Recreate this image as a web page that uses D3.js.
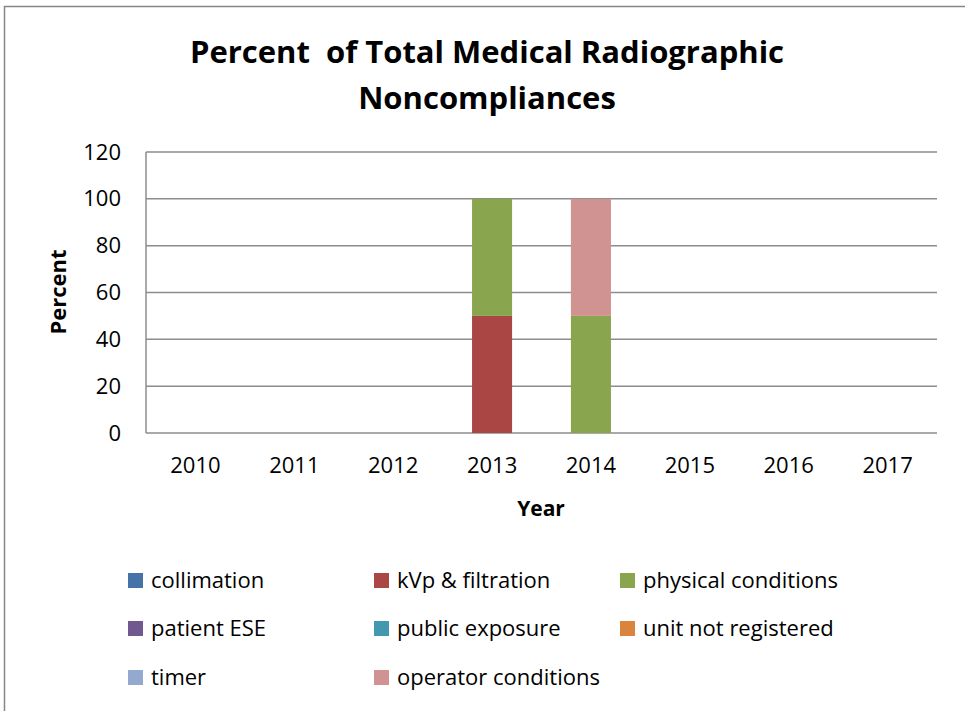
<!DOCTYPE html>
<html>
<head>
<meta charset="utf-8">
<script src="https://cdn.jsdelivr.net/npm/d3@7"></script>
<style>
  body { margin: 0; background: #fff; }
  svg text { font-family: "Open Sans", Lato, sans-serif; fill: #000; }
</style>
</head>
<body>
<div id="chart"></div>
<script>
var years = ["2010", "2011", "2012", "2013", "2014", "2015", "2016", "2017"];
var seriesNames = ["collimation", "kVp & filtration", "physical conditions", "patient ESE",
  "public exposure", "unit not registered", "timer", "operator conditions"];
var seriesColors = ["#4572A7", "#AA4643", "#89A54E", "#71588F", "#4198AF", "#DB843D", "#93A9CF", "#D19392"];
// one array per series, values by year
var collimation = [0, 0, 0, 0, 0, 0, 0, 0];
var kvp = [0, 0, 0, 50, 0, 0, 0, 0];
var physical = [0, 0, 0, 50, 50, 0, 0, 0];
var patientESE = [0, 0, 0, 0, 0, 0, 0, 0];
var publicExposure = [0, 0, 0, 0, 0, 0, 0, 0];
var unitNotRegistered = [0, 0, 0, 0, 0, 0, 0, 0];
var timer = [0, 0, 0, 0, 0, 0, 0, 0];
var operator = [0, 0, 0, 0, 50, 0, 0, 0];
var yTicks = [0, 20, 40, 60, 80, 100, 120];

var allSeries = [collimation, kvp, physical, patientESE, publicExposure, unitNotRegistered, timer, operator];

var width = 965, height = 711;
var plotLeft = 146, plotRight = 937, plotTop = 152, plotBottom = 433;

var table = years.map(function (y, i) {
  var row = { year: y };
  seriesNames.forEach(function (s, j) { row[s] = allSeries[j][i]; });
  return row;
});

var svg = d3.select("#chart").append("svg")
  .attr("width", width).attr("height", height);

// outer chart border
svg.append("rect")
  .attr("x", 4.5).attr("y", 6.5)
  .attr("width", 980).attr("height", 730)
  .attr("fill", "none").attr("stroke", "#868686").attr("stroke-width", 1.5);

var x = d3.scaleBand().domain(years).range([plotLeft, plotRight]).paddingInner(0.595).paddingOuter(0.2975);
var y = d3.scaleLinear().domain([0, 120]).range([plotBottom, plotTop]);

// gridlines
svg.append("g")
  .selectAll("line")
  .data(yTicks)
  .enter().append("line")
  .attr("x1", plotLeft).attr("x2", plotRight)
  .attr("y1", function (d) { return y(d); })
  .attr("y2", function (d) { return y(d); })
  .attr("stroke", "#8c8c8c").attr("stroke-width", 1.5);

// y axis line
svg.append("line")
  .attr("x1", plotLeft).attr("x2", plotLeft)
  .attr("y1", plotTop).attr("y2", plotBottom)
  .attr("stroke", "#8c8c8c").attr("stroke-width", 1.5);

var stack = d3.stack().keys(seriesNames);
var layers = stack(table);

svg.append("g")
  .selectAll("g")
  .data(layers)
  .enter().append("g")
  .attr("fill", function (d, i) { return seriesColors[i]; })
  .selectAll("rect")
  .data(function (d) { return d.filter(function (p) { return p[1] - p[0] > 0; }); })
  .enter().append("rect")
  .attr("x", function (d) { return x(d.data.year); })
  .attr("width", x.bandwidth())
  .attr("y", function (d) { return y(d[1]); })
  .attr("height", function (d) { return y(d[0]) - y(d[1]); });

// y tick labels
var yAxis = d3.axisLeft(y).tickValues(yTicks).tickSize(0).tickPadding(25);
var gy = svg.append("g").attr("transform", "translate(" + plotLeft + ",0)").call(yAxis);
gy.select(".domain").remove();
gy.selectAll("text").style("font-size", "22px").style("font-family", "'Open Sans', sans-serif");

// x tick labels
var xAxis = d3.axisBottom(x).tickSize(0).tickPadding(24);
var gx = svg.append("g").attr("transform", "translate(0," + plotBottom + ")").call(xAxis);
gx.select(".domain").remove();
gx.selectAll("text").style("font-size", "22px").style("font-family", "'Open Sans', sans-serif");

// title
var title = svg.append("text")
  .attr("text-anchor", "middle")
  .style("font-size", "31px").style("font-weight", "bold");
title.append("tspan").attr("x", 487).attr("y", 63).attr("xml:space", "preserve").text("Percent  of Total Medical Radiographic");
title.append("tspan").attr("x", 487).attr("y", 109).text("Noncompliances");

// axis titles
svg.append("text")
  .attr("x", 541).attr("y", 516)
  .attr("text-anchor", "middle")
  .style("font-size", "21px").style("font-weight", "bold")
  .text("Year");

svg.append("text")
  .attr("transform", "translate(66,292) rotate(-90)")
  .attr("text-anchor", "middle")
  .style("font-size", "22px").style("font-weight", "bold")
  .text("Percent");

// legend
var legendCols = [128, 374, 620];
var legendRows = [580, 628, 677];
var legend = svg.append("g")
  .selectAll("g")
  .data(seriesNames)
  .enter().append("g")
  .attr("transform", function (d, i) {
    return "translate(" + legendCols[i % 3] + "," + legendRows[Math.floor(i / 3)] + ")";
  });

legend.append("rect")
  .attr("x", 0).attr("y", -7)
  .attr("width", 15).attr("height", 15)
  .attr("fill", function (d, i) { return seriesColors[i]; });

legend.append("text")
  .attr("x", 23).attr("y", 8)
  .style("font-size", "22px")
  .text(function (d) { return d; });
</script>
</body>
</html>
